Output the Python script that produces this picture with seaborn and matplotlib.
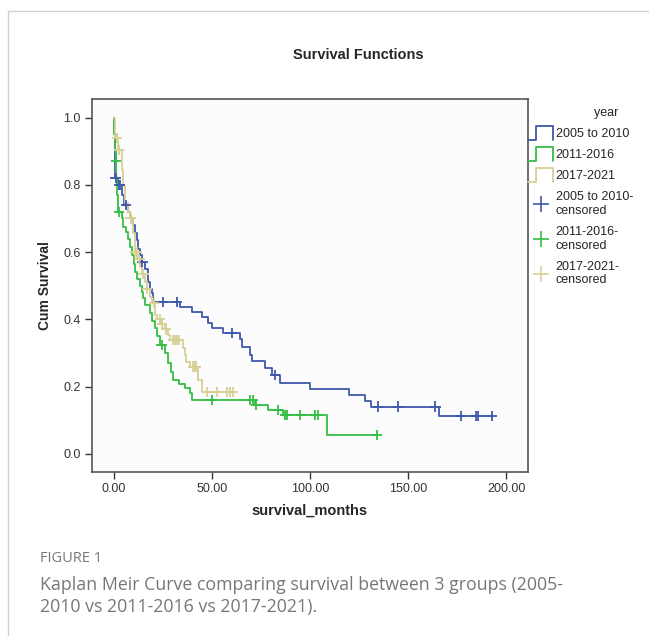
import numpy as np
import pandas as pd
import matplotlib
matplotlib.use("Agg")
import matplotlib.pyplot as plt
import seaborn as sns
from matplotlib.legend_handler import HandlerBase
from matplotlib.lines import Line2D

groups = ["2005 to 2010", "2011-2016", "2017-2021"]
colors = ["#3E58AC", "#35BE45", "#D8CF95"]

# step times and survival after each event
blue_t = [0, 0.15, 0.3, 0.45, 0.6, 2.0, 4.0, 5.0, 7, 8, 9.5, 10.7, 11.5, 12.4, 13.3, 14.1, 16, 17.5, 18.5,
          19.2, 20, 33.7, 39.6, 44.7, 48, 50, 55.8, 64.3, 65.1, 69.4, 70.5, 77, 80.5, 84.7, 100, 120, 128,
          131, 166, 193]
blue_s = [1.0, 0.95, 0.90, 0.86, 0.82, 0.80, 0.77, 0.74, 0.72, 0.70, 0.68, 0.656, 0.635, 0.61, 0.59, 0.571,
          0.55, 0.512, 0.49, 0.478, 0.452, 0.438, 0.423, 0.408, 0.388, 0.375, 0.359, 0.341, 0.319, 0.294,
          0.276, 0.255, 0.235, 0.212, 0.192, 0.175, 0.158, 0.141, 0.113, 0.113]
blue_cens = [0.8, 2.5, 3.2, 6.0, 14.5, 25, 32, 60, 82, 134.7, 145, 164, 177, 184.5, 185.5, 193]

green_t = [0, 0.2, 0.5, 0.8, 1.2, 1.6, 2.0, 3.9, 4.7, 6, 7.3, 8, 9, 10, 10.7, 12, 13.3, 14.2, 15, 15.8,
           18.4, 19.5, 20.9, 22, 23.5, 26, 27.7, 29, 30.3, 33, 36.2, 38.8, 39.6, 72, 78.7, 86.4, 108.8, 134]
green_s = [1.0, 0.95, 0.90, 0.87, 0.82, 0.77, 0.72, 0.70, 0.675, 0.66, 0.64, 0.615, 0.59, 0.565, 0.54,
           0.52, 0.50, 0.48, 0.464, 0.443, 0.418, 0.395, 0.373, 0.35, 0.324, 0.30, 0.27, 0.245, 0.22,
           0.207, 0.195, 0.18, 0.16, 0.146, 0.131, 0.116, 0.056, 0.056]
green_cens = [0.9, 2.7, 24.3, 49.8, 69.4, 71, 72.5, 83.8, 87.5, 88.3, 95, 102.5, 104, 134]

tan_t = [0, 0.3, 0.7, 2.0, 3.9, 4.7, 5.6, 7, 8.2, 9.8, 10.7, 12, 13.3, 14.5, 15.8, 17, 18.4, 19.5, 20.9,
         22, 24, 26, 27.5, 28.6, 35.4, 36.2, 37, 39, 43, 44.7, 61]
tan_s = [1.0, 0.97, 0.94, 0.903, 0.844, 0.795, 0.746, 0.72, 0.70, 0.656, 0.60, 0.58, 0.557, 0.535, 0.512,
         0.49, 0.467, 0.448, 0.413, 0.40, 0.385, 0.37, 0.355, 0.339, 0.314, 0.295, 0.274, 0.26, 0.22,
         0.185, 0.185]
tan_cens = [1.4, 2.7, 8.5, 10.9, 11.5, 13, 15, 17, 20.5, 23.5, 24.5, 26.5, 30, 31, 32, 33, 40.5, 41.5,
            42, 47.3, 52.4, 57.5, 59.2, 60.9]

curve_rows = []
cens_rows = []
for g, t, s, c in zip(groups, [blue_t, green_t, tan_t], [blue_s, green_s, tan_s],
                      [blue_cens, green_cens, tan_cens]):
    for ti, si in zip(t, s):
        curve_rows.append((g, ti, si))
    t_arr = np.array(t)
    s_arr = np.array(s)
    for ci in c:
        idx = np.searchsorted(t_arr, ci, side="right") - 1
        cens_rows.append((g, ci, s_arr[idx]))
curves = pd.DataFrame(curve_rows, columns=["year", "survival_months", "surv"])
cens = pd.DataFrame(cens_rows, columns=["year", "survival_months", "surv"])

sns.set_style("white")
plt.rcParams["font.family"] = ["Liberation Sans", "DejaVu Sans"]

fig = plt.figure(figsize=(6.49, 6.36), dpi=100)
ax = fig.add_axes([92 / 649, 1 - 472 / 636, 436 / 649, 373 / 636])
ax.set_facecolor("#FCFCFC")

pal = dict(zip(groups, colors))
sns.lineplot(data=curves, x="survival_months", y="surv", hue="year", palette=pal,
             drawstyle="steps-post", estimator=None, sort=False, legend=False, linewidth=1.3, ax=ax)
sns.scatterplot(data=cens, x="survival_months", y="surv", hue="year", palette=pal, marker="+",
                s=55, linewidth=1.3, legend=False, ax=ax, zorder=3)

ax.set_xlim(-11.2, 211.2)
ax.set_ylim(-0.0535, 1.055)
ax.set_xticks([0, 50, 100, 150, 200])
ax.set_xticklabels(["0.00", "50.00", "100.00", "150.00", "200.00"])
ax.set_yticks([0, 0.2, 0.4, 0.6, 0.8, 1.0])
ax.set_yticklabels(["0.0", "0.2", "0.4", "0.6", "0.8", "1.0"])
ax.tick_params(axis="both", direction="out", length=5, width=1, color="#333333",
               labelsize=9, labelcolor="#333333", pad=3, bottom=True, left=True)
for sp in ax.spines.values():
    sp.set_color("#555555")
    sp.set_linewidth(1.2)
ax.set_xlabel("survival_months", fontsize=10.5, fontweight="bold", labelpad=6)
ax.set_ylabel("Cum Survival", fontsize=10, fontweight="bold", labelpad=8)

fig.text(358 / 649, 1 - 55 / 636, "Survival Functions", ha="center", va="center",
         fontsize=10.5, fontweight="bold")


class StepHandler(HandlerBase):
    def create_artists(self, legend, orig_handle, xdescent, ydescent, width, height, fontsize, trans):
        h = height * 1.6
        y0 = -ydescent - (h - height) / 2
        xs = np.array([0, 0.3, 0.3, 1.0, 1.0]) * width - xdescent
        ys = np.array([0, 0, 1, 1, 0]) * h + y0
        line = Line2D(xs, ys, color=orig_handle.get_color(), linewidth=1.3, transform=trans)
        return [line]


step_handles = [Line2D([], [], color=c) for c in colors]
plus_handles = [Line2D([], [], color=c, marker="+", linestyle="none", markersize=11, markeredgewidth=1.2)
                for c in colors]
labels = groups + [g + "-\ncensored" for g in groups]
leg = fig.legend(step_handles + plus_handles, labels, loc="upper left",
                 bbox_to_anchor=(523 / 649, 1 - 102 / 636), frameon=False, fontsize=9,
                 title="year    ", title_fontsize=9, handlelength=2.0, handletextpad=0.2,
                 labelspacing=0.72, borderaxespad=0,
                 handler_map={h: StepHandler() for h in step_handles})
leg._legend_box.align = "right"

# outer frame lines
fig.add_artist(Line2D([8 / 649, 8 / 649], [0, 1 - 11 / 636], color="#D0D0D0", linewidth=1,
                      transform=fig.transFigure))
fig.add_artist(Line2D([8 / 649, 1], [1 - 11 / 636, 1 - 11 / 636], color="#D0D0D0", linewidth=1,
                      transform=fig.transFigure))

fig.text(40 / 649, 1 - 558 / 636, "FIGURE 1", fontsize=10.5, color="#777777", va="center",
         family=["Open Sans", "DejaVu Sans"])
fig.text(40 / 649, 1 - 596 / 636,
         "Kaplan Meir Curve comparing survival between 3 groups (2005-\n2010 vs 2011-2016 vs 2017-2021).",
         fontsize=12.8, color="#777777", va="center", linespacing=1.35,
         family=["Open Sans", "DejaVu Sans"])

fig.savefig("out.png", dpi=100, facecolor="white")
